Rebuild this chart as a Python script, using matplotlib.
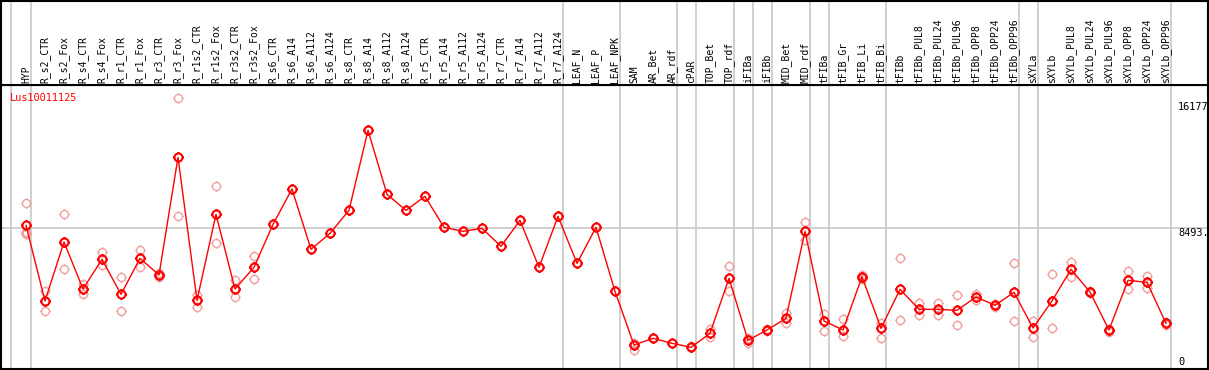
import numpy as np
import matplotlib
matplotlib.use("Agg")
import matplotlib.pyplot as plt
from matplotlib.path import Path

# sample names, in plotting order
samples = ["HYP", "R_s2_CTR", "R_s2_Fox", "R_s4_CTR", "R_s4_Fox", "R_r1_CTR", "R_r1_Fox",
           "R_r3_CTR", "R_r3_Fox", "R_r1s2_CTR", "R_r1s2_Fox", "R_r3s2_CTR", "R_r3s2_Fox",
           "R_s6_CTR", "R_s6_A14", "R_s6_A112", "R_s6_A124", "R_s8_CTR", "R_s8_A14",
           "R_s8_A112", "R_s8_A124", "R_r5_CTR", "R_r5_A14", "R_r5_A112", "R_r5_A124",
           "R_r7_CTR", "R_r7_A14", "R_r7_A112", "R_r7_A124", "LEAF_N", "LEAF_P", "LEAF_NPK",
           "SAM", "AR_Bet", "AR_rdf", "cPAR", "TOP_Bet", "TOP_rdf", "iFIBa", "iFIBb",
           "MID_Bet", "MID_rdf", "tFIBa", "tFIB_Gr", "tFIB_Li", "tFIB_Bi", "tFIBb",
           "tFIBb_PUL8", "tFIBb_PUL24", "tFIBb_PUL96", "tFIBb_OPP8", "tFIBb_OPP24",
           "tFIBb_OPP96", "sXYLa", "sXYLb", "sXYLb_PUL8", "sXYLb_PUL24", "sXYLb_PUL96",
           "sXYLb_OPP8", "sXYLb_OPP24", "sXYLb_OPP96"]

# mean expression per sample
means = [8679, 3873, 7619, 4635, 6519, 4296, 6582, 5524, 12995, 3915, 9376, 4635, 6011,
         8741, 10984, 7153, 8169, 9630, 14709, 10645, 9630, 10518, 8550, 8296, 8487,
         7344, 8995, 6011, 9248, 6265, 8550, 4487,
         1079, 1503, 1185, 931, 1820, 5312, 1376, 2032, 2772, 8296, 2603, 2032, 5418,
         2138, 4614, 3344, 3344, 3280, 4127, 3598, 4423, 2159, 3873, 5884, 4444, 2032,
         5185, 5058, 2455]

# individual replicates (empty where none are shown)
replicates = [[10076, 8250, 8190, 8130], [4527, 3238], [9376, 5884], [4952, 4296],
              [6963, 6138], [5376, 3238], [7111, 6011], [5630, 5376], [16741, 9248],
              [4254, 3513], [11153, 7555], [5206, 4106], [6730, 5249],
              [], [], [], [], [], [], [], [], [], [], [], [], [], [], [], [], [], [], [],
              [1227, 762], [1503], [1185], [931, 990], [2074, 1566], [6095, 4487],
              [1503, 1185], [2100, 1960], [3132, 2455], [8868, 7746], [3026, 1989],
              [2709, 1651], [5524, 5249], [2455, 1503], [6582, 2667], [3725, 2963],
              [3725, 2963], [4233, 2328], [4317, 3937], [3680, 3520], [6265, 2603],
              [2603, 1566], [5566, 2138], [6349, 5418], [4480, 4380], [2100, 1880],
              [5778, 4614], [5460, 4698], [2540, 2340]]

# group separators (after these sample indices)
separators = [-1.04, 0, 28, 31, 34, 35, 37, 38, 39, 41, 42, 45, 52, 53, 60]

gene = "Lus10011125"
red = "#ff0000"
faint = "#f0a0a0"
grey = "#c8c8c8"
mono = "DejaVu Sans Mono"

W, H = 1209, 370
fig = plt.figure(figsize=(W / 100, H / 100), dpi=100)

x0_px, dx_px = 26, 19
xl = ((1 - x0_px) / dx_px, (1208 - x0_px) / dx_px)
px_per_unit = 0.01575
y_zero = 362

def yval(py):
    return (y_zero - py) / px_per_unit

ax = fig.add_axes([1 / W, 1 - 369 / H, 1207 / W, 284 / H])
hd = fig.add_axes([1 / W, 1 - 85 / H, 1207 / W, 84 / H])

ax.set_xlim(*xl)
ax.set_ylim(yval(369), yval(85))
hd.set_xlim(*xl)
hd.set_ylim(0, 1)

for a in (ax, hd):
    a.set_xticks([])
    a.set_yticks([])
    for s in a.spines.values():
        s.set_linewidth(1.5)
        s.set_color("black")
    for sx in separators:
        a.axvline(sx + 0.24, color=grey, lw=1.2, zorder=0)

ax.axhline(8493, color=grey, lw=1.2, zorder=0)

# marker: open circle with four small ticks
circ = Path.unit_circle()
ticks = Path([(0, 1), (0, 1.3), (0, -1), (0, -1.3), (1, 0), (1.3, 0), (-1, 0), (-1.3, 0)],
             [Path.MOVETO, Path.LINETO] * 4)
mk = Path.make_compound_path(circ, ticks)

x = np.arange(len(samples))
for i, reps in enumerate(replicates):
    if reps:
        ax.plot([i] * len(reps), reps, linestyle="none", marker=mk, ms=7.5,
                mfc="none", mec=faint, mew=1.0, zorder=2)
ax.plot(x, means, color=red, lw=1.0, zorder=3)
ax.plot(x, means, linestyle="none", marker=mk, ms=7.5, mfc="none", mec=red,
        mew=1.5, zorder=4)

ax.text(0.007, 0.955, gene, transform=ax.transAxes, color=red, family=mono,
        fontsize=7.4, ha="left", va="center")

lx = (1178 - x0_px) / dx_px
ax.text(lx, 16177, "16177", family=mono, fontsize=7.4, ha="left", va="center")
ax.text(lx, 8493, "8493.", family=mono, fontsize=7.4, ha="left", va="top")
ax.text(lx, 0, "0", family=mono, fontsize=7.4, ha="left", va="center")

for i, name in enumerate(samples):
    hd.text(i, (85 - 82.7) / 84, name, rotation=90, family=mono, fontsize=7.0,
            ha="center", va="bottom")

fig.savefig("out.png", dpi=100)
